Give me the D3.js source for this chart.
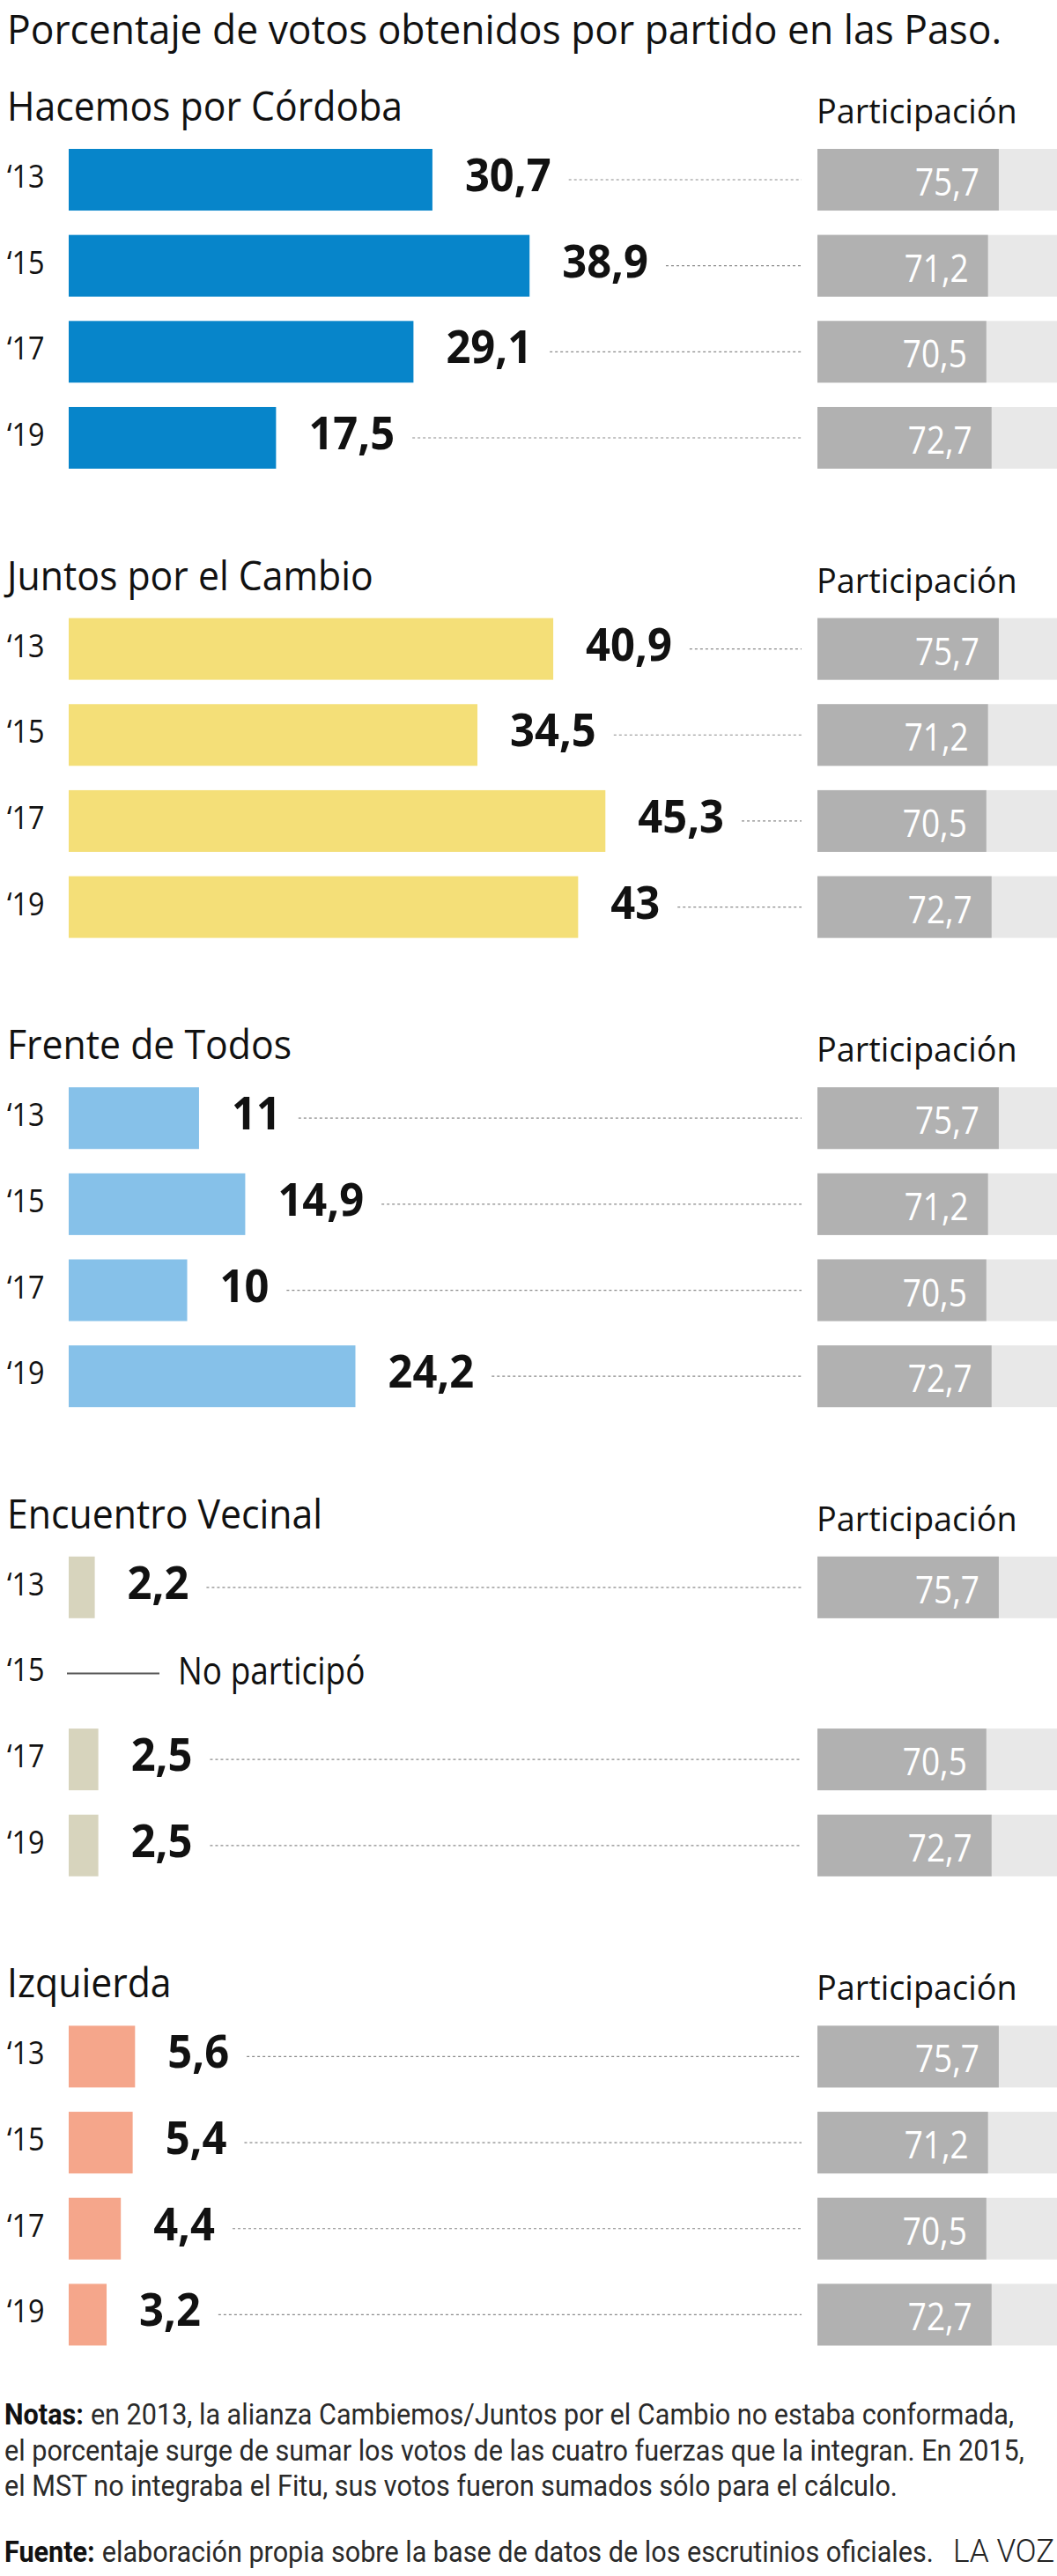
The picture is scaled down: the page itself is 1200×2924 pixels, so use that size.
<!DOCTYPE html>
<html>
<head>
<meta charset="utf-8">
<script src="https://cdn.jsdelivr.net/npm/d3@7"></script>
<style>
  body { margin: 0; background: #fff; }
</style>
</head>
<body>
<script>
// datos
const parties = ["Hacemos por Córdoba", "Juntos por el Cambio", "Frente de Todos", "Encuentro Vecinal", "Izquierda"];
const years = ["‘13", "‘15", "‘17", "‘19"];
const hacemos = [30.7, 38.9, 29.1, 17.5];
const juntos = [40.9, 34.5, 45.3, 43];
const frente = [11, 14.9, 10, 24.2];
const vecinal = [2.2, null, 2.5, 2.5];
const izquierda = [5.6, 5.4, 4.4, 3.2];
const participacion = [75.7, 71.2, 70.5, 72.7];
const partyColors = ["#0785ca", "#f4df78", "#86c1e9", "#d7d4bd", "#f5a68b"];

const values = [hacemos, juntos, frente, vecinal, izquierda];

const width = 1200;
const height = 2924;
const FONT = "'Open Sans', 'Noto Sans', sans-serif";
const NOTE_FONT = "Roboto, 'Open Sans', sans-serif";

const svg = d3.select("body")
    .append("svg")
    .attr("width", width)
    .attr("height", height);

// texto "condensado": fuente normal escalada en x
const addText = (parent, x, y, str, size, k, weight, fill, anchor, family) => {
    return parent.append("text")
        .attr("transform", `translate(${x},${y}) scale(${k},1)`)
        .attr("font-family", family || FONT)
        .attr("font-size", size)
        .attr("font-weight", weight || 400)
        .attr("fill", fill || "#111")
        .attr("text-anchor", anchor || "start")
        .text(str);
}

const textEnd = (sel, x, k) => x + sel.node().getComputedTextLength() * k;

const fmt = (v) => String(v).replace(".", ",");

addText(svg, 8, 50, "Porcentaje de votos obtenidos por partido en las Paso.", 46, 0.965, 400, "#111");

const sectionScale = d3.scaleBand()
    .domain(parties)
    .range([169, 169 + 5 * 532.6]);

const rowScale = d3.scaleBand()
    .domain(years)
    .range([0, 363])
    .paddingInner(0.283);

const xScale = d3.scaleLinear()
    .domain([0, 100])
    .range([78, 1423]);

const xPart = d3.scaleLinear()
    .domain([0, 100])
    .range([928, 1200]);

const bw = rowScale.bandwidth();

parties.forEach((party, i) => {
    const g = svg.append("g")
        .attr("transform", "translate(0," + sectionScale(party) + ")");

    addText(g, 8, -32, party, 46, 0.93, 400, "#111");
    addText(g, 927, -29, "Participación", 39, 0.97, 400, "#111");

    const rows = years.map((yr, j) => ({ yr: yr, v: values[i][j], p: participacion[j] }));

    rows.forEach((d) => {
        const top = rowScale(d.yr);
        const cy = top + bw / 2;

        addText(g, 8, cy + 9, d.yr, 36, 0.9, 400, "#111");

        if (d.v === null) {
            g.append("line")
                .attr("x1", 76)
                .attr("x2", 181)
                .attr("y1", cy)
                .attr("y2", cy)
                .attr("stroke", "#555")
                .attr("stroke-width", 2);
            addText(g, 202, cy + 13, "No participó", 43, 0.86, 400, "#111");
            return;
        }

        g.append("rect")
            .attr("x", xScale(0))
            .attr("y", top)
            .attr("width", xScale(d.v) - xScale(0))
            .attr("height", bw)
            .attr("fill", partyColors[i]);

        const lx = xScale(d.v) + 37;
        const k = 0.94;
        const label = addText(g, lx, cy + 13, fmt(d.v), 52, k, 700, "#111");
        const labelEnd = textEnd(label, lx, k);

        g.append("line")
            .attr("x1", labelEnd + 20)
            .attr("x2", 910)
            .attr("y1", cy)
            .attr("y2", cy)
            .attr("stroke", "#8a8a8a")
            .attr("stroke-width", 1.2)
            .attr("stroke-dasharray", "3,3");

        g.append("rect")
            .attr("x", xPart(0))
            .attr("y", top)
            .attr("width", xPart(100) - xPart(0))
            .attr("height", bw)
            .attr("fill", "#e8e8e8");

        g.append("rect")
            .attr("x", xPart(0))
            .attr("y", top)
            .attr("width", xPart(d.p) - xPart(0))
            .attr("height", bw)
            .attr("fill", "#b1b1b1");

        addText(g, xPart(d.p) - 22, cy + 18, fmt(d.p), 44, 0.84, 400, "#fff", "end");
    });
});

// notas
const notes = [
    ["Notas:", "en 2013, la alianza Cambiemos/Juntos por el Cambio no estaba conformada,"],
    ["", "el porcentaje surge de sumar los votos de las cuatro fuerzas que la integran. En 2015,"],
    ["", "el MST no integraba el Fitu, sus votos fueron sumados sólo para el cálculo."],
    ["Fuente:", "elaboración propia sobre la base de datos de los escrutinios oficiales."]
];
const noteY = [2752, 2792.5, 2833, 2908];
const noteK = 0.9;

notes.forEach((n, i) => {
    let x = 5;
    if (n[0] !== "") {
        const b = addText(svg, x, noteY[i], n[0], 34, noteK, 700, "#111", "start", NOTE_FONT);
        x = textEnd(b, x, noteK) + 8;
    }
    addText(svg, x, noteY[i], n[1], 34, noteK, 400, "#2a2a2a", "start", NOTE_FONT);
});

addText(svg, 1082, 2908, "LA VOZ", 37, 0.95, 300, "#222", "start", NOTE_FONT);
</script>
</body>
</html>
